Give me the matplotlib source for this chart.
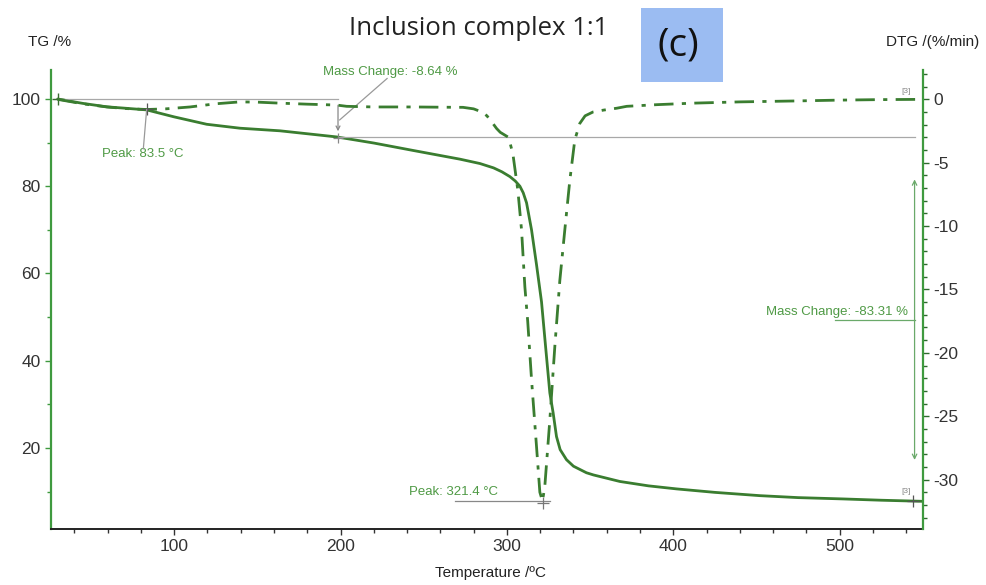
import matplotlib
matplotlib.use("Agg")
import matplotlib.pyplot as plt
from matplotlib.patches import Rectangle
from matplotlib.ticker import MultipleLocator

# ---------------- data ----------------
T_tg = [30, 45, 59.6, 70, 83.5, 100, 119.6, 139.6, 163.7, 197.7, 220, 243.6,
        271.8, 283.8, 292, 297, 301.8, 305, 307.8, 309.8, 311.8, 314.8, 317.8,
        320.8, 323.3, 325.8, 327.8, 329.8, 332, 335.8, 340, 347.8, 352, 367.9,
        385, 401.9, 425, 452, 475, 501.8, 525, 550]
TG = [100, 99.0, 98.2, 97.9, 97.5, 95.9, 94.2, 93.3, 92.7, 91.3, 89.9, 88.2,
      86.2, 85.2, 84.2, 83.3, 82.2, 81.2, 80.0, 78.5, 76.2, 70.0, 62.0,
      53.5, 43.0, 32.6, 28.0, 22.6, 19.6, 17.3, 15.8, 14.3, 13.8, 12.3,
      11.3, 10.6, 9.8, 9.05, 8.6, 8.3, 8.0, 7.75]

T_dtg = [30, 45, 59.6, 70, 83.5, 95, 109.6, 125, 139.6, 150, 163.7, 180, 197.7,
         203.7, 220, 243.6, 260, 273.6, 280, 285, 288, 291, 293.8, 296, 298.5,
         301, 303.6, 306.6, 308.8, 310.8, 312.5, 314.8, 317.8, 319.8, 321.4,
         322.8, 325.8, 328.8, 331.8, 334.8, 337.8, 340.8, 343.8, 347, 351.7,
         358, 366, 372, 390, 411.7, 440, 471.8, 500, 525, 550]
DTG = [0, -0.35, -0.6, -0.72, -0.8, -0.75, -0.6, -0.35, -0.2, -0.22, -0.3,
       -0.38, -0.45, -0.55, -0.6, -0.6, -0.62, -0.63, -0.75, -1.0, -1.3, -1.8,
       -2.3, -2.6, -2.8, -3.0, -4.3, -7.2, -10.3, -14.8, -17.5, -22.1, -27.4,
       -31.0, -31.7, -30.5, -25.3, -19.5, -14.3, -10.3, -6.4, -3.2, -1.9, -1.3,
       -1.0, -0.85, -0.7, -0.55, -0.42, -0.3, -0.2, -0.13, -0.06, -0.02, 0]

x_ticks = [100, 200, 300, 400, 500]
tg_ticks = [20, 40, 60, 80, 100]
dtg_ticks = [0, -5, -10, -15, -20, -25, -30]

peak1_T, peak1_D = 83.5, -0.8
peak2_T, peak2_D = 321.4, -31.7
step1_T = 198.5
mass_change1 = -8.64
mass_change2 = -83.31

# ---------------- style ----------------
plt.rcParams['font.family'] = ['Liberation Sans', 'DejaVu Sans']
plt.rcParams['axes.unicode_minus'] = False
curve_c = '#3a7d30'
axis_g = '#3f9a3f'
ann_c = '#4f9a45'
guide_c = '#a8a8a8'

fig = plt.figure(figsize=(9.86, 5.85), dpi=100)
ax = fig.add_axes([0.0517, 0.0957, 0.8843, 0.7843])
ax2 = ax.twinx()

ax.set_xlim(26, 550)
ax.set_ylim(1.4, 106.6)
ax2.set_ylim(-33.9, 2.3)

# curves
ax.plot(T_tg, TG, color=curve_c, lw=2.0, solid_capstyle='round', solid_joinstyle='round')
ax2.plot(T_dtg, DTG, color=curve_c, lw=2.0, linestyle=(0, (7, 3, 1.5, 3)))

# spines
for a in (ax, ax2):
    a.spines['top'].set_visible(False)
ax.spines['left'].set_color(axis_g)
ax.spines['left'].set_linewidth(1.6)
ax2.spines['right'].set_color(axis_g)
ax2.spines['right'].set_linewidth(1.6)
ax2.spines['left'].set_visible(False)
ax.spines['right'].set_visible(False)
ax.spines['bottom'].set_color('#222222')
ax.spines['bottom'].set_linewidth(1.4)
ax2.spines['bottom'].set_visible(False)

# ticks
ax.set_xticks(x_ticks)
ax.xaxis.set_minor_locator(MultipleLocator(20))
ax.set_yticks(tg_ticks)
ax.yaxis.set_minor_locator(MultipleLocator(10))
ax2.set_yticks(dtg_ticks)
ax2.yaxis.set_minor_locator(MultipleLocator(1))
ax.tick_params(axis='both', which='major', labelsize=12.5, length=4, width=1,
               colors='#333333', direction='out')
ax.tick_params(axis='both', which='minor', length=3, width=1, colors='#333333',
               direction='out')
ax.tick_params(axis='y', which='both', color=axis_g)
ax2.tick_params(axis='y', which='major', labelsize=12.5, length=4, width=1,
                color='#2e6b2e', labelcolor='#333333', direction='out')
ax2.tick_params(axis='y', which='minor', length=3, width=1, color='#2e6b2e',
                direction='out')

# axis labels
fig.text(0.028, 0.928, 'TG /%', fontsize=11, color='#222222', ha='left', va='center')
fig.text(0.993, 0.928, 'DTG /(%/min)', fontsize=11, color='#222222', ha='right', va='center')
fig.text(0.497, 0.02, 'Temperature /ºC', fontsize=11, color='#222222', ha='center', va='center')

# title and (c) box
fig.text(0.485, 0.952, 'Inclusion complex 1:1', fontsize=18.5, family='Open Sans',
         color='#222222', ha='center', va='center')
fig.patches.append(Rectangle((0.650, 0.860), 0.083, 0.127, transform=fig.transFigure,
                             facecolor='#9bbcf2', edgecolor='none', zorder=0))
fig.text(0.688, 0.922, '(c)', fontsize=28, family='Open Sans', color='#111111',
         ha='center', va='center')

# guide lines (first step)
tg_after1 = 100 + mass_change1
ax.plot([28, step1_T], [100, 100], color=guide_c, lw=0.9)
ax.plot([step1_T, 545], [tg_after1, tg_after1], color=guide_c, lw=0.9)
ax.annotate('', xy=(step1_T, tg_after1 + 0.6), xytext=(step1_T, 99.2),
            arrowprops=dict(arrowstyle='->', color='#888888', lw=0.9, mutation_scale=7))
ax.plot([step1_T], [tg_after1 - 0.4], marker='+', color='#888888', ms=7, mew=0.9)
ax.plot([step1_T + 1, 228], [95.2, 104.7], color='#999999', lw=0.9)
ax.text(230, 106.3, 'Mass Change: %.2f %%' % mass_change1, fontsize=9.5, color=ann_c,
        ha='center', va='center', clip_on=False)

# peak 1
ax2.plot([peak1_T], [peak1_D], marker='+', color='#555555', ms=8, mew=0.9)
ax2.plot([peak1_T, 81.5], [peak1_D, -3.9], color='#999999', lw=0.9)
ax.text(81.0, 87.3, 'Peak: %.1f °C' % peak1_T, fontsize=9.5, color=ann_c,
        ha='center', va='center')

# peak 2
ax2.plot([269, 326], [peak2_D, peak2_D], color='#888888', lw=0.9)
ax2.plot([peak2_T], [peak2_D - 0.15], marker='+', color='#777777', ms=8, mew=0.9)
ax2.text(268, -31.0, 'Peak: %.1f °C' % peak2_T, fontsize=9.5, color=ann_c,
         ha='center', va='center')

# second mass change
ax.annotate('', xy=(545, 82.2), xytext=(545, 16.6),
            arrowprops=dict(arrowstyle='<->', color='#6aa96a', lw=0.9, mutation_scale=8))
ax.plot([497, 545], [49.4, 49.4], color='#6aa96a', lw=0.9)
ax.text(498.5, 51.2, 'Mass Change: %.2f %%' % mass_change2, fontsize=9.5, color=ann_c,
        ha='center', va='center')

# end markers and [3] labels
ax.plot([30], [100], marker='+', color='#3a6b30', ms=8, mew=1.0)
ax.plot([544], [7.8], marker='+', color='#555555', ms=8, mew=0.9)
ax2.text(540, 0.65, '[3]', fontsize=6, color='#888888', ha='center', va='center')
ax.text(540, 9.9, '[3]', fontsize=6, color='#888888', ha='center', va='center')

fig.savefig('out.png', dpi=100, facecolor='white')
